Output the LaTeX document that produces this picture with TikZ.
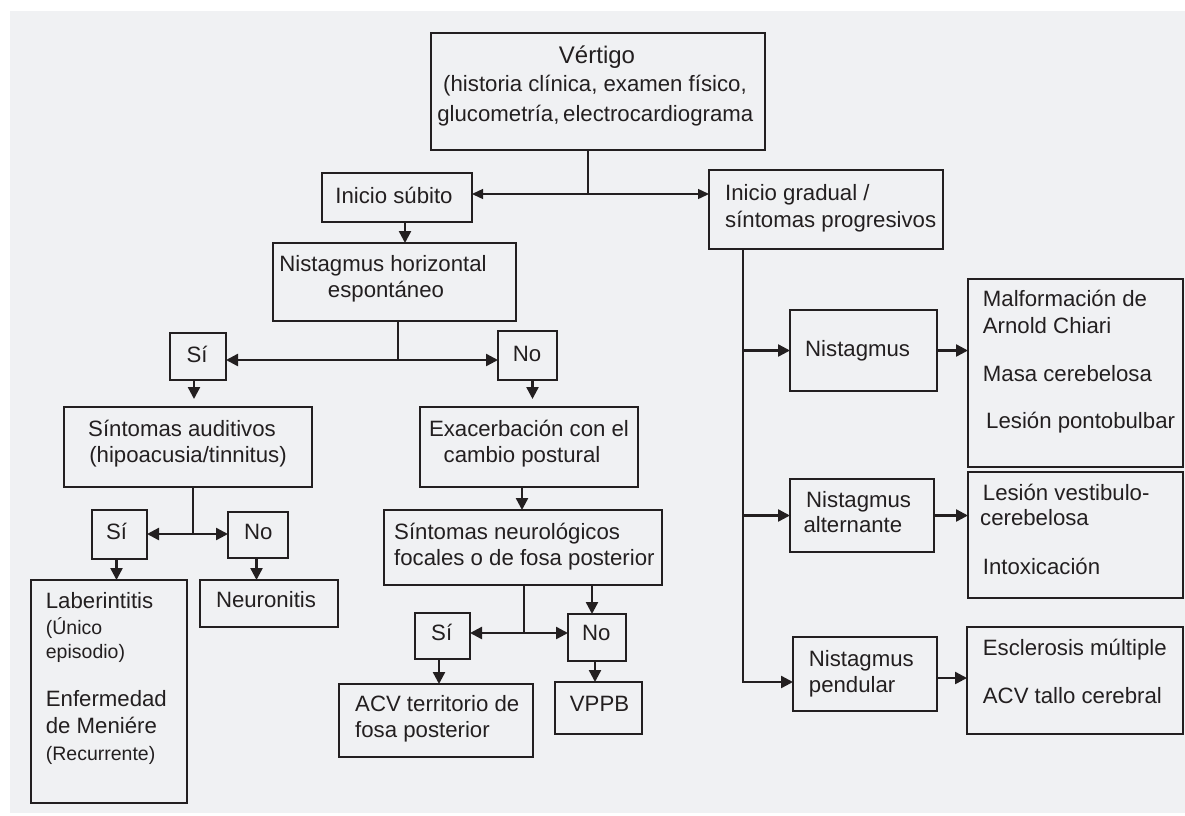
\documentclass[tikz,border=0pt]{standalone}
\usepackage{fontspec}
\setmainfont{Liberation Sans}
\usetikzlibrary{arrows.meta}
\definecolor{ink}{RGB}{35,31,32}
\definecolor{paper}{RGB}{240,241,243}
\tikzset{
  box/.style={draw=ink, line width=2.4pt, inner sep=0pt, outer sep=0pt, anchor=north west},
  thinbox/.style={box, line width=1.6pt},
  txt/.style={text=ink, inner sep=0pt, font=\fontsize{22.2}{26}\selectfont},
  bigtxt/.style={txt, font=\fontsize{24}{28}\selectfont},
  smalltxt/.style={txt, font=\fontsize{19.5}{23}\selectfont},
  link/.style={draw=ink, line width=2.4pt},
  arr/.style={link, -{Triangle[length=12pt,width=12pt]}},
  twoarr/.style={link, {Triangle[length=12pt,width=12pt]}-{Triangle[length=12pt,width=12pt]}},
  thinlink/.style={draw=ink, line width=1.4pt},
  thintwoarr/.style={thinlink, {Triangle[length=11pt,width=10pt]}-{Triangle[length=11pt,width=10pt]}},
}
\begin{document}
\begin{tikzpicture}[x=1pt,y=-1pt]
\path[use as bounding box] (0,0) rectangle (1185,815);
\fill[white] (0,0) rectangle (1185,815);
\fill[paper] (10,11) rectangle (1185,813);

% ---- boxes, left and centre column ----
\node[thinbox, minimum width=334pt, minimum height=117pt] (vert) at (431,33) {};
\node[box, minimum width=150pt, minimum height=49pt] (subito) at (322,173) {};
\node[box, minimum width=234pt, minimum height=79pt] (gradual) at (709,170) {};
\node[box, minimum width=243pt, minimum height=78pt] (nhor) at (273,243) {};
\node[box, minimum width=56pt, minimum height=47pt] (siA) at (170,333) {};
\node[box, minimum width=59pt, minimum height=49pt] (noA) at (498,331) {};
\node[box, minimum width=248pt, minimum height=80pt] (aud) at (64,407) {};
\node[box, minimum width=218pt, minimum height=80pt] (exa) at (420,407) {};
\node[box, minimum width=278pt, minimum height=75pt] (neuro) at (384,510) {};
\node[box, minimum width=55pt, minimum height=49pt] (siB) at (92,510) {};
\node[box, minimum width=60pt, minimum height=46pt] (noB) at (228,512) {};
\node[box, minimum width=156pt, minimum height=223pt] (lab) at (31,580) {};
\node[box, minimum width=138pt, minimum height=47pt] (neu) at (200,580) {};
\node[box, minimum width=55pt, minimum height=46pt] (siC) at (415,613) {};
\node[box, minimum width=58pt, minimum height=47pt] (noC) at (568,614) {};
\node[box, minimum width=194pt, minimum height=73pt] (acv) at (339,684) {};
\node[box, minimum width=87pt, minimum height=52pt] (vppb) at (555,682) {};

% ---- boxes, right column ----
\node[box, minimum width=147pt, minimum height=81pt] (nis) at (790,310) {};
\node[box, minimum width=144pt, minimum height=73pt] (alt) at (790,479) {};
\node[box, minimum width=144pt, minimum height=74pt] (pen) at (793,637) {};
\node[box, minimum width=215pt, minimum height=188pt] (mal) at (968,279) {};
\node[box, minimum width=215pt, minimum height=126pt] (ves) at (968,472) {};
\node[box, minimum width=216pt, minimum height=107pt] (esc) at (967,627) {};

% ---- texts ----
\node[bigtxt, anchor=base] (vertA) at (597,63) {Vértigo};
\node[txt, anchor=base] (vertB) at (595,91) {(historia clínica, examen físico,};
\node[txt, anchor=base] (vertC) at (595.3,121) {glucometría,\,electrocardiograma};
\node[txt, anchor=base] (subitoT) at (394,203) {Inicio súbito};
\node[txt, anchor=base west] (gradualA) at (725,200) {Inicio gradual /};
\node[txt, anchor=base west] (gradualB) at (725,227) {síntomas progresivos};
\node[txt, anchor=base] (nhorA) at (383,271) {Nistagmus horizontal};
\node[txt, anchor=base] (nhorB) at (386,297) {espontáneo};
\node[txt, anchor=base] (siAT) at (197,362) {Sí};
\node[txt, anchor=base] (noAT) at (527,361) {No};
\node[txt, anchor=base] (audA) at (182,436) {Síntomas auditivos};
\node[txt, anchor=base] (audB) at (188,462) {(hipoacusia/tinnitus)};
\node[txt, anchor=base] (exaA) at (529,436) {Exacerbación con el};
\node[txt, anchor=base] (exaB) at (522,462) {cambio postural};
\node[txt, anchor=base west] (neuroA) at (394,539) {Síntomas neurológicos};
\node[txt, anchor=base west] (neuroB) at (394,565) {focales o de fosa posterior};
\node[txt, anchor=base] (siBT) at (116.5,539.5) {Sí};
\node[txt, anchor=base] (noBT) at (258.3,539) {No};
\node[txt, anchor=base west] (labA) at (45.7,608.3) {Laberintitis};
\node[smalltxt, anchor=base west] (labB) at (45.7,634) {(Único};
\node[smalltxt, anchor=base west] (labC) at (45.7,658) {episodio)};
\node[txt, anchor=base west] (labD) at (45.7,706) {Enfermedad};
\node[txt, anchor=base west] (labE) at (45.7,733) {de Meniére};
\node[smalltxt, anchor=base west] (labF) at (45.7,760) {(Recurrente)};
\node[txt, anchor=base] (neuT) at (266,607) {Neuronitis};
\node[txt, anchor=base] (siCT) at (441.7,640) {Sí};
\node[txt, anchor=base] (noCT) at (596.3,640) {No};
\node[txt, anchor=base west] (acvA) at (355,711) {ACV territorio de};
\node[txt, anchor=base west] (acvB) at (355,737) {fosa posterior};
\node[txt, anchor=base] (vppbT) at (599.5,711) {VPPB};
\node[txt, anchor=base west] (nisT) at (805,356) {Nistagmus};
\node[txt, anchor=base west] (altA) at (806,507) {Nistagmus};
\node[txt, anchor=base west] (altB) at (803.3,532) {alternante};
\node[txt, anchor=base west] (penA) at (808.7,666) {Nistagmus};
\node[txt, anchor=base west] (penB) at (808.7,692) {pendular};
\node[txt, anchor=base west] (malA) at (982.7,306) {Malformación de};
\node[txt, anchor=base west] (malB) at (982.7,333) {Arnold Chiari};
\node[txt, anchor=base west] (malC) at (982.7,381) {Masa cerebelosa};
\node[txt, anchor=base west] (malD) at (986,428) {Lesión pontobulbar};
\node[txt, anchor=base west] (vesA) at (982.7,500) {Lesión vestibulo-};
\node[txt, anchor=base west] (vesB) at (980,525) {cerebelosa};
\node[txt, anchor=base west] (vesC) at (982.7,574) {Intoxicación};
\node[txt, anchor=base west] (escA) at (982.7,655) {Esclerosis múltiple};
\node[txt, anchor=base west] (escB) at (982.7,703) {ACV tallo cerebral};

% ---- connectors ----
\coordinate (j0) at (588,194);
\draw[thinlink] (j0 |- vert.south) -- (j0);
\draw[thintwoarr] (j0 -| subito.east) -- (j0 -| gradual.west);

\coordinate (a1) at ([xshift=8pt]subito.south);
\draw[arr] (a1) -- (a1 |- nhor.north);

\coordinate (j1) at (398,360);
\draw[link] (j1 |- nhor.south) -- (j1);
\draw[twoarr] (j1 -| siA.east) -- (j1 -| noA.west);

\coordinate (a2) at ([xshift=-4pt]siA.south);
\draw[arr, shorten >=8pt] (a2) -- (a2 |- aud.north);
\coordinate (a3) at ([xshift=5pt]noA.south);
\draw[arr, shorten >=8pt] (a3) -- (a3 |- exa.north);

\coordinate (j2) at (193,534);
\draw[link] (j2 |- aud.south) -- (j2);
\draw[twoarr] (j2 -| siB.east) -- (j2 -| noB.west);
\coordinate (a4) at ([xshift=-3pt]siB.south);
\draw[arr] (a4) -- (a4 |- lab.north);
\coordinate (a5) at ([xshift=-1.5pt]noB.south);
\draw[arr] (a5) -- (a5 |- neu.north);

\coordinate (a6) at ([xshift=-7pt]exa.south);
\draw[arr] (a6) -- (a6 |- neuro.north);

\coordinate (j3) at (524,633);
\draw[link] (j3 |- neuro.south) -- (j3);
\draw[twoarr] (j3 -| siC.east) -- (j3 -| noC.west);
\coordinate (a7) at ([xshift=69pt]neuro.south);
\draw[arr] (a7) -- (a7 |- noC.north);
\coordinate (a8) at ([xshift=-3.5pt]siC.south);
\draw[arr] (a8) -- (a8 |- acv.north);
\coordinate (a9) at ([xshift=-2pt]noC.south);
\draw[arr] (a9) -- (a9 |- vppb.north);

\coordinate (sp) at (743,682);
\draw[arr] (sp |- gradual.south) -- (sp) -- (sp -| pen.west);
\draw[arr] (nis.west -| sp) -- (nis.west);
\draw[arr] (alt.west -| sp) -- (alt.west);

\draw[arr] (nis.east) -- (nis.east -| mal.west);
\draw[arr] (alt.east) -- (alt.east -| ves.west);
\coordinate (a10) at ([yshift=-4pt]pen.east);
\draw[arr] (a10) -- (a10 -| esc.west);
\end{tikzpicture}
\end{document}
